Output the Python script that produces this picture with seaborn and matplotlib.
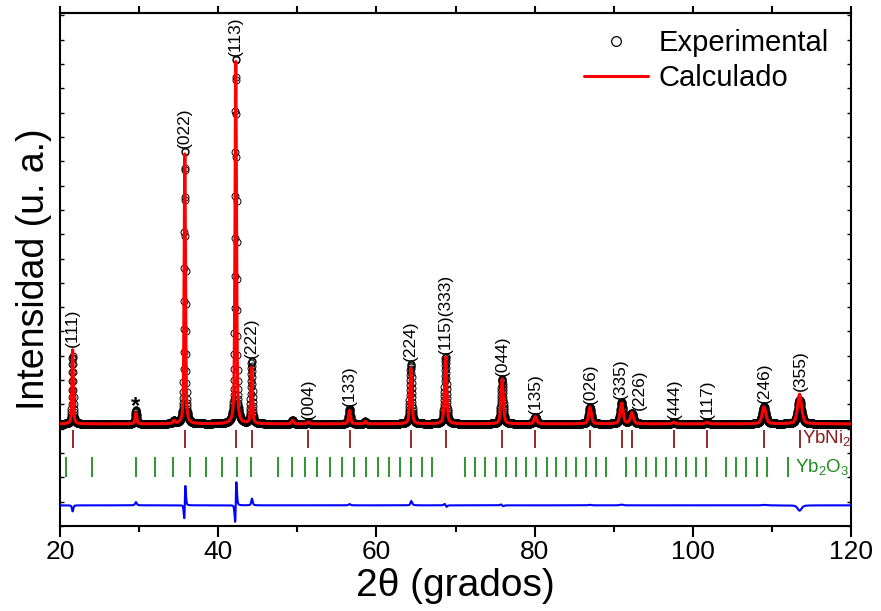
import numpy as np
import pandas as pd
import matplotlib
matplotlib.use("Agg")
import matplotlib.pyplot as plt
import seaborn as sns
from matplotlib.lines import Line2D
from matplotlib.ticker import MultipleLocator, FixedLocator
from matplotlib import font_manager

# ---------------- data ----------------
# peak positions (2theta), heights above background and widths
peak_pos_calc = [21.60, 29.60, 34.40, 35.78, 42.22, 44.22, 49.40, 51.40, 56.60, 58.60,
                 64.35, 68.75, 75.90, 80.10, 87.00, 91.00, 92.30, 97.60, 101.80, 109.00, 113.50]
peak_pos_exp = [21.60, 29.60, 34.40, 35.789, 42.229, 44.225, 49.40, 51.40, 56.60, 58.60,
                64.355, 68.745, 75.895, 80.10, 87.00, 91.00, 92.30, 97.60, 101.80, 109.00, 113.50]
peak_h_calc = [3.05, 0.45, 0.12, 11.1, 14.9, 2.30, 0.15, 0.08, 0.55, 0.10,
               2.30, 2.75, 1.85, 0.30, 0.68, 0.85, 0.45, 0.06, 0.06, 0.70, 1.22]
peak_h_exp = [2.80, 0.58, 0.12, 11.3, 15.1, 2.55, 0.15, 0.08, 0.60, 0.10,
              2.45, 2.75, 1.85, 0.30, 0.70, 0.88, 0.45, 0.06, 0.06, 0.72, 1.00]
peak_fwhm = [0.20, 0.25, 0.30, 0.20, 0.22, 0.24, 0.30, 0.30, 0.30, 0.30,
             0.30, 0.32, 0.35, 0.40, 0.42, 0.45, 0.45, 0.50, 0.50, 0.55, 0.60]
background = 4.2
diff_offset = 0.85
two_theta = np.arange(20.0, 120.001, 0.02)

hkl_labels = ['(111)', '(022)', '(113)', '(222)', '(004)', '(133)', '(224)', '(115)(333)',
              '(044)', '(135)', '(026)', '(335)', '(226)', '(444)', '(117)', '(246)', '(355)']
ybni2_pos = [21.60, 35.78, 42.22, 44.22, 51.40, 56.60, 64.35, 68.75, 75.90, 80.10,
             87.00, 91.00, 92.30, 97.65, 101.80, 109.00, 113.55]
yb2o3_pos = [20.72, 24.0, 29.59, 32.03, 34.3, 36.45, 38.52, 40.46, 42.35, 44.16, 47.62, 49.34,
             50.99, 52.55, 54.15, 55.67, 57.18, 58.66, 60.14, 61.61, 62.96, 64.35, 65.78, 67.09,
             71.16, 72.47, 73.73, 75.11, 76.42, 77.69, 78.95, 80.21, 81.52, 82.74, 84.01, 85.23,
             86.5, 87.76, 89.02, 91.55, 92.82, 94.08, 95.35, 96.56, 97.83, 99.09, 100.35, 101.62,
             104.2, 105.4, 106.7, 108.1, 109.4, 112.0]
impurity_peak = 29.6
x_ticks = [20, 40, 60, 80, 100, 120]


def profile(x, pos, h, w):
    y = np.full_like(x, background)
    for p, a, f in zip(pos, h, w):
        u = 2.0 * (x - p) / f
        lor = 1.0 / (1.0 + u ** 2)
        gau = np.exp(-np.log(2.0) * u ** 2)
        y += a * (0.5 * lor + 0.5 * gau)
    return y


y_exp = profile(two_theta, peak_pos_exp, peak_h_exp, peak_fwhm)
y_calc = profile(two_theta, peak_pos_calc, peak_h_calc, peak_fwhm)
df = pd.DataFrame({"tt": two_theta, "exp": y_exp, "calc": y_calc,
                   "diff": y_exp - y_calc + diff_offset})

# ---------------- style ----------------
sns.set_style("ticks")
plt.rcParams['font.family'] = ['Liberation Sans', 'DejaVu Sans']
plt.rcParams['mathtext.fontset'] = 'custom'
plt.rcParams['mathtext.rm'] = 'Liberation Sans'
plt.rcParams['mathtext.it'] = 'Liberation Sans:italic'
plt.rcParams['mathtext.default'] = 'regular'
for k in ['text.color', 'axes.labelcolor', 'xtick.color', 'ytick.color', 'axes.edgecolor']:
    plt.rcParams[k] = 'black'

names = {f.name for f in font_manager.fontManager.ttflist}
tick_font = 'Liberation Sans Narrow' if 'Liberation Sans Narrow' in names else 'Liberation Sans'
tick_size = 21 if tick_font == 'Liberation Sans Narrow' else 19

fig = plt.figure(figsize=(8.81, 6.11), dpi=100)
ax = fig.add_axes([60 / 881, 1 - 526 / 611, 791 / 881, 513 / 611])

RED = '#FF0000'
DARKRED = '#8B1A1A'
GREEN = '#1E8C1E'
BLUE = '#0000FF'

sns.lineplot(data=df, x="tt", y="exp", ax=ax, estimator=None, sort=False,
             linestyle='none', marker='o', markersize=5, markerfacecolor='none',
             markeredgecolor='black', markeredgewidth=0.7, color='black', zorder=2)
sns.lineplot(data=df, x="tt", y="calc", ax=ax, estimator=None, sort=False,
             color=RED, linewidth=2.2, zorder=3)
sns.lineplot(data=df, x="tt", y="diff", ax=ax, estimator=None, sort=False,
             color=BLUE, linewidth=1.5, zorder=3)

ax.vlines(ybni2_pos, 3.2, 3.95, color=DARKRED, linewidth=1.3)
ax.vlines(yb2o3_pos, 2.0, 2.85, color=GREEN, linewidth=1.3)

ax.text(113.8, 3.62, 'YbNi$_2$', color=DARKRED, fontsize=13.5, ha='left', va='center')
ax.text(112.95, 2.42, 'Yb$_2$O$_3$', color=GREEN, fontsize=13.5, ha='left', va='center')

# hkl labels above peaks (a few nudged sideways as in the reference)
nudge = {'(226)': 0.9, '(335)': -0.1}
for lab, p in zip(hkl_labels, ybni2_pos):
    m = np.abs(two_theta - p) < 0.3
    ytop = max(y_exp[m].max(), y_calc[m].max()) + 0.12
    ax.text(p + nudge.get(lab, 0.0), ytop, lab, rotation=90, ha='center', va='bottom',
            fontsize=12.5, color='black')

m = np.abs(two_theta - impurity_peak) < 0.3
ax.text(impurity_peak, y_exp[m].max() - 0.12, '*', ha='center', va='baseline',
        fontsize=17, fontweight='bold')

ax.set_xlim(20, 120)
ax.set_ylim(0, 21.1)

ax.xaxis.set_major_locator(FixedLocator(x_ticks))
ax.xaxis.set_minor_locator(MultipleLocator(10))
ax.yaxis.set_major_locator(MultipleLocator(1))
ax.tick_params(axis='x', which='major', direction='out', length=8, width=1.5,
               labelsize=tick_size, pad=2)
ax.tick_params(axis='x', which='minor', direction='out', length=4, width=1.5)
ax.tick_params(axis='y', which='both', direction='in', length=3, width=1.0,
               left=True, right=True, labelleft=False)
for lbl in ax.get_xticklabels():
    lbl.set_fontfamily(tick_font)

sec = ax.secondary_xaxis('top')
sec.set_xticks(np.arange(20, 121, 10))
sec.tick_params(direction='out', length=5, width=1.5, labeltop=False)
sec.spines['top'].set_linewidth(1.5)

for s in ax.spines.values():
    s.set_linewidth(1.5)
    s.set_color('black')

ax.set_xlabel('2θ (grados)', fontsize=28, labelpad=3)
ax.set_ylabel('Intensidad (u. a.)', fontsize=27, labelpad=6)

handles = [Line2D([], [], linestyle='none', marker='o', markersize=7,
                  markerfacecolor='none', markeredgecolor='black', markeredgewidth=0.9),
           Line2D([], [], color=RED, linewidth=2.2)]
ax.legend(handles, ['Experimental', 'Calculado'], loc='upper right',
          bbox_to_anchor=(0.972, 0.968), frameon=False, fontsize=21,
          handlelength=2.2, handletextpad=0.35, labelspacing=0.22,
          borderpad=0, borderaxespad=0)

fig.savefig("out.png", dpi=100)
